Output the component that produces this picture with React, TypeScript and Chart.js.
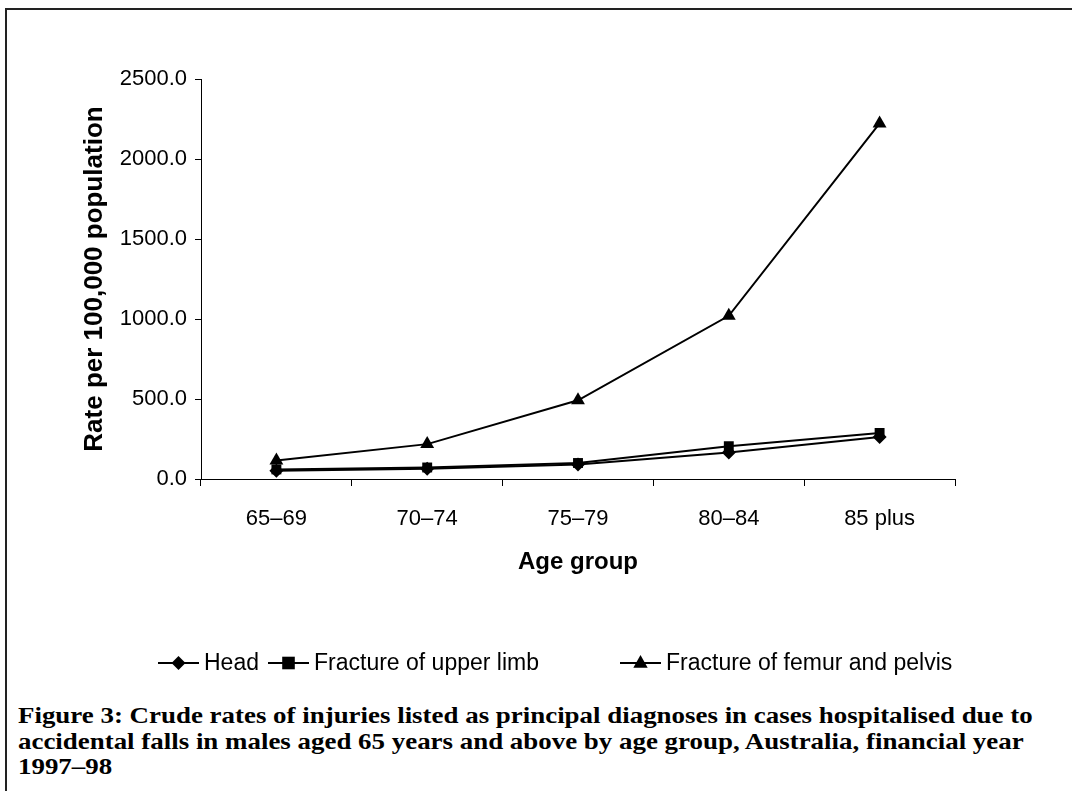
import React, { useEffect, useRef } from "react";
import { Chart, registerables } from "chart.js";

Chart.register(...registerables);

const ageGroups = ["65–69", "70–74", "75–79", "80–84", "85 plus"];
const headRates = [52, 64, 90, 165, 262];
const upperLimbRates = [60, 72, 100, 205, 288];
const femurPelvisRates = [115, 218, 492, 1020, 2222];
const seriesNames = ["Head", "Fracture of upper limb", "Fracture of femur and pelvis"];
const pointStyles = ["rectRot", "rect", "triangle"];
const pointSizes = [7, 7, 8];
const yMin = 0;
const yMax = 2500;
const yStep = 500;
const xTitle = "Age group";
const yTitle = "Rate per 100,000 population";
const captionLines = [
  "Figure 3: Crude rates of injuries listed as principal diagnoses in cases hospitalised due to",
  "accidental falls in males aged 65 years and above by age group, Australia, financial year",
  "1997–98",
];

const SANS = "'Liberation Sans', Arial, sans-serif";
const SERIF = "'Liberation Serif', 'Times New Roman', serif";

const TICK_FONT = 22;
const X_TITLE_FONT = 24;
const Y_TITLE_FONT = 26;
const LEGEND_FONT = 23;

const legendLayout = { y: 663, starts: [158, 268, 620], lineLen: 41, textGap: 5 };

const legendPlugin = {
  id: "customLegend",
  afterDraw(chart: any) {
    const ctx = chart.ctx;
    ctx.save();
    chart.data.datasets.forEach((ds: any, i: number) => {
      const x0 = legendLayout.starts[i];
      const y = legendLayout.y;
      ctx.strokeStyle = "#000";
      ctx.lineWidth = 2;
      ctx.beginPath();
      ctx.moveTo(x0, y);
      ctx.lineTo(x0 + legendLayout.lineLen, y);
      ctx.stroke();
      ctx.fillStyle = "#000";
      const style = ds.pointStyle;
      const r = ds.pointRadius;
      const cx = x0 + legendLayout.lineLen / 2;
      ctx.beginPath();
      if (style === "rectRot") {
        ctx.moveTo(cx, y - r);
        ctx.lineTo(cx + r, y);
        ctx.lineTo(cx, y + r);
        ctx.lineTo(cx - r, y);
      } else if (style === "rect") {
        const s = r * 0.9;
        ctx.rect(cx - s, y - s, 2 * s, 2 * s);
      } else {
        ctx.moveTo(cx, y - r);
        ctx.lineTo(cx + r * 0.9, y + r * 0.6);
        ctx.lineTo(cx - r * 0.9, y + r * 0.6);
      }
      ctx.closePath();
      ctx.fill();
      ctx.font = `${LEGEND_FONT}px ${SANS}`;
      ctx.textBaseline = "middle";
      ctx.textAlign = "left";
      ctx.fillText(ds.label, x0 + legendLayout.lineLen + legendLayout.textGap, y + 1);
    });
    ctx.restore();
  },
};

export default function App() {
  const canvasRef = useRef<HTMLCanvasElement | null>(null);

  useEffect(() => {
    if (!canvasRef.current) return;
    const seriesData = [headRates, upperLimbRates, femurPelvisRates];
    const chart = new Chart(canvasRef.current, {
      type: "line",
      data: {
        labels: ageGroups,
        datasets: seriesData.map((d, i) => ({
          label: seriesNames[i],
          data: d,
          borderColor: "#000",
          backgroundColor: "#000",
          borderWidth: 2,
          pointStyle: pointStyles[i] as any,
          pointRadius: pointSizes[i],
          pointBackgroundColor: "#000",
          pointBorderColor: "#000",
          pointBorderWidth: 0,
          tension: 0,
          fill: false,
        })),
      },
      options: {
        animation: false,
        responsive: false,
        devicePixelRatio: 1,
        layout: { padding: { top: 79, right: 117, bottom: 121, left: 0 } },
        plugins: {
          legend: { display: false },
          tooltip: { enabled: false },
        },
        scales: {
          x: {
            type: "category",
            offset: true,
            grid: {
              display: true,
              drawOnChartArea: false,
              drawTicks: true,
              tickLength: 7,
              offset: true,
              color: "#000",
              tickColor: "#000",
            },
            border: { display: true, color: "#000", width: 1 },
            ticks: {
              color: "#000",
              font: { size: TICK_FONT, family: SANS },
              padding: 20,
              maxRotation: 0,
              autoSkip: false,
            },
            title: {
              display: true,
              text: xTitle,
              color: "#000",
              font: { size: X_TITLE_FONT, weight: "bold", family: SANS },
              padding: { top: 0, bottom: 2 },
            },
            afterFit: (s: any) => {
              s.height = 100;
            },
          },
          y: {
            min: yMin,
            max: yMax,
            grid: {
              display: true,
              drawOnChartArea: false,
              drawTicks: true,
              tickLength: 6,
              color: "#000",
              tickColor: "#000",
            },
            border: { display: true, color: "#000", width: 1 },
            ticks: {
              stepSize: yStep,
              color: "#000",
              font: { size: TICK_FONT, family: SANS },
              padding: 8,
              callback: (v: any) => Number(v).toFixed(1),
            },
            title: {
              display: true,
              text: yTitle,
              color: "#000",
              font: { size: Y_TITLE_FONT, weight: "bold", family: SANS },
              padding: { top: 79, bottom: 0 },
            },
            afterFit: (s: any) => {
              s.width = 201;
            },
          },
        },
      },
      plugins: [legendPlugin],
    });
    return () => chart.destroy();
  }, []);

  return (
    <div style={{ position: "fixed", left: 0, top: 0, width: 1072, height: 791, overflow: "hidden", background: "#fff" }}>
      <div
        style={{
          position: "absolute",
          left: 5,
          top: 8,
          width: 1100,
          height: 820,
          border: "2px solid #222",
          boxSizing: "border-box",
        }}
      />
      <canvas ref={canvasRef} width={1072} height={700} style={{ position: "absolute", left: 0, top: 0, width: 1072, height: 700 }} />
      <div
        style={{
          position: "absolute",
          left: 18,
          top: 703,
          fontFamily: SERIF,
          fontWeight: "bold",
          fontSize: 23,
          lineHeight: "25.5px",
          color: "#000",
          whiteSpace: "nowrap",
          transform: "scaleX(1.17)",
          transformOrigin: "left top",
        }}
      >
        {captionLines.map((l, i) => (
          <div key={i}>{l}</div>
        ))}
      </div>
    </div>
  );
}
